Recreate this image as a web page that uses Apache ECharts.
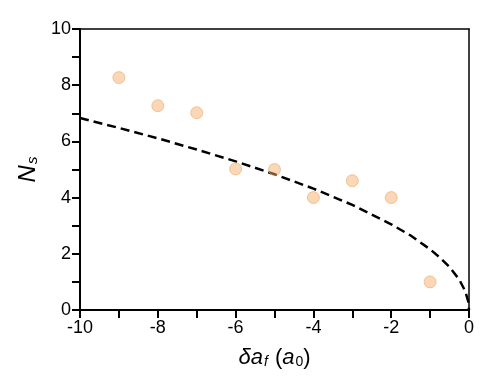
<!DOCTYPE html>
<html>
<head>
<meta charset="utf-8">
<script src="https://cdn.jsdelivr.net/npm/echarts@6/dist/echarts.min.js"></script>
<style>
  html, body { margin: 0; padding: 0; background: #fff; }
  #chart { width: 498px; height: 392px; }
</style>
</head>
<body>
<div id="chart"></div>
<script>
// measured points
const dataX = [-9, -8, -7, -6, -5, -4, -3, -2, -1];
const dataY = [8.27, 7.27, 7.02, 5.02, 5.0, 4.0, 4.6, 4.0, 1.0];

// dashed curve
const curveX = [-10, -9, -8, -7, -6, -5, -4, -3, -2, -1.5, -1, -0.75, -0.5, -0.25, -0.1, -0.02, 0];
const curveY = [6.83, 6.48, 6.11, 5.71, 5.29, 4.83, 4.32, 3.74, 3.05, 2.65, 2.16, 1.87, 1.53, 1.08, 0.68, 0.31, 0];

const font = 'Liberation Sans';

const chart = echarts.init(document.getElementById('chart'));

// plain frame axes for top / right edges
const frameAxis = (extra) => Object.assign({
    type: 'value',
    axisLine: { show: true, onZero: false, lineStyle: { color: '#000', width: 1.5 } },
    axisTick: { show: false },
    axisLabel: { show: false },
    splitLine: { show: false }
}, extra);

const option = {
    animation: false,
    grid: { left: 80, right: 29, top: 29, bottom: 82 },
    xAxis: [{
        type: 'value',
        min: -10, max: 0, interval: 1,
        splitLine: { show: false },
        axisLine: { onZero: false, lineStyle: { color: '#000', width: 2 } },
        axisTick: { length: 8, lineStyle: { color: '#000', width: 2 } },
        axisLabel: {
            color: '#000', fontFamily: font, fontSize: 18, margin: 9,
            formatter: v => (v % 2 === 0 ? String(v) : '')
        },
        name: '{i|δa}{sub|f}{n| (}{i|a}{sub0|0}{n|)}',
        nameLocation: 'middle',
        nameGap: 36,
        nameTextStyle: {
            rich: {
                i: { fontFamily: font, fontStyle: 'italic', fontSize: 22, color: '#000' },
                n: { fontFamily: font, fontSize: 22, color: '#000' },
                sub: { fontFamily: font, fontStyle: 'italic', fontSize: 14, color: '#000', verticalAlign: 'bottom', padding: [9, 1, 0, 1] },
                sub0: { fontFamily: font, fontSize: 14, color: '#000', verticalAlign: 'bottom', padding: [9, 0, 0, 1] }
            }
        }
    }, frameAxis({ position: 'top', min: -10, max: 0 })],
    yAxis: [{
        type: 'value',
        min: 0, max: 10, interval: 1,
        splitLine: { show: false },
        axisLine: { onZero: false, lineStyle: { color: '#000', width: 2 } },
        axisTick: { length: 8, lineStyle: { color: '#000', width: 2 } },
        axisLabel: {
            color: '#000', fontFamily: font, fontSize: 18, margin: 9,
            formatter: v => (v % 2 === 0 ? String(v) : '')
        },
        name: '{i|N}{sub|s}',
        nameLocation: 'middle',
        nameGap: 38,
        nameTextStyle: {
            rich: {
                i: { fontFamily: font, fontStyle: 'italic', fontSize: 24, color: '#000' },
                sub: { fontFamily: font, fontStyle: 'italic', fontSize: 15, color: '#000', verticalAlign: 'bottom', padding: [9, 0, 0, 1] }
            }
        }
    }, frameAxis({ position: 'right', min: 0, max: 10 })],
    series: [
        {
            type: 'line',
            data: curveX.map((x, i) => [x, curveY[i]]),
            showSymbol: false,
            lineStyle: { color: '#000', width: 2.5, type: [9, 5] },
            z: 2
        },
        {
            type: 'scatter',
            data: dataX.map((x, i) => [x, dataY[i]]),
            symbolSize: 12,
            itemStyle: {
                color: 'rgba(242,172,105,0.6)',
                borderColor: 'rgba(236,170,105,0.8)',
                borderWidth: 1
            },
            z: 3
        }
    ]
};

chart.setOption(option);
</script>
</body>
</html>
